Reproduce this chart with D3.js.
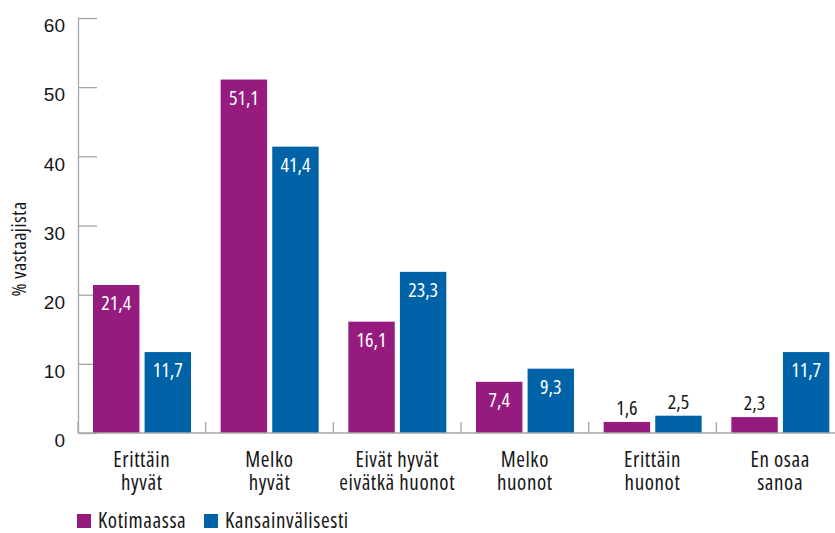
<!DOCTYPE html>
<html>
<head>
<meta charset="utf-8">
<script src="https://cdn.jsdelivr.net/npm/d3@7"></script>
<style>
  body { margin: 0; background: #fff; }
  svg { display: block; font-family: 'Open Sans', sans-serif; font-stretch: 75%; }
</style>
</head>
<body>
<div class="graph"><svg></svg></div>
<script>
// chart values
const categories = [
  ['Erittäin', 'hyvät'],
  ['Melko', 'hyvät'],
  ['Eivät hyvät', 'eivätkä huonot'],
  ['Melko', 'huonot'],
  ['Erittäin', 'huonot'],
  ['En osaa', 'sanoa']
]
const seriesNames = ['Kotimaassa', 'Kansainvälisesti']
const kotimaassa = [21.4, 51.1, 16.1, 7.4, 1.6, 2.3]
const kansainvalisesti = [11.7, 41.4, 23.3, 9.3, 2.5, 11.7]
const yTicks = [0, 10, 20, 30, 40, 50, 60]

const colors = ['#951b7e', '#0063a7']
const textColor = '#161616'
const axisColor = '#a6a6a6'
const width = 835
const height = 533

const svg = d3.select('.graph').select('svg')
  .attr('width', width)
  .attr('height', height)

const catKeys = categories.map((c) => c.join(' '))

const x = d3.scaleBand()
  .domain(catKeys)
  .range([78, 844])

const xInner = d3.scaleBand()
  .domain(seriesNames)
  .range([15, 113])
  .paddingInner(0.1)

const y = d3.scaleLinear()
  .domain([0, 60])
  .range([433, 18])

const rows = catKeys.map((k, i) => ({
  key: k,
  values: [kotimaassa[i], kansainvalisesti[i]]
}))

// y axis
const yAxis = svg.append('g')
  .attr('transform', 'translate(78,0)')
  .call(d3.axisLeft(y)
    .tickValues(yTicks)
    .tickSizeInner(-19)
    .tickSizeOuter(0)
    .tickPadding(13))

yAxis.select('.domain').attr('stroke', axisColor).attr('stroke-width', 1.3)
yAxis.selectAll('.tick line').attr('stroke', axisColor).attr('stroke-width', 1.3)
yAxis.selectAll('.tick text')
  .attr('font-size', 19)
  .attr('font-family', null)
  .attr('fill', textColor)
  .attr('dy', '0.72em')

svg.append('text')
  .text('% vastaajista')
  .attr('transform', 'translate(26, 249) rotate(-90)')
  .attr('text-anchor', 'middle')
  .attr('font-size', 20)
  .attr('letter-spacing', 0.5)
  .attr('fill', textColor)

// bars
const groups = svg.append('g')
  .selectAll('g')
  .data(rows)
  .join('g')
  .attr('transform', (d) => `translate(${x(d.key)},0)`)

groups.selectAll('rect')
  .data((d) => d.values.map((v, i) => ({ v, s: seriesNames[i], i })))
  .join('rect')
  .attr('x', (d) => xInner(d.s))
  .attr('width', xInner.bandwidth())
  .attr('y', (d) => y(d.v))
  .attr('height', (d) => y(0) - y(d.v))
  .attr('fill', (d) => colors[d.i])

groups.selectAll('text.value')
  .data((d) => d.values.map((v, i) => ({ v, s: seriesNames[i], i })))
  .join('text')
  .attr('class', 'value')
  .text((d) => d.v.toFixed(1).replace('.', ','))
  .attr('x', (d) => xInner(d.s) + xInner.bandwidth() / 2)
  .attr('y', (d) => d.v > 5 ? y(d.v) + 25 : y(d.v) - 7)
  .attr('text-anchor', 'middle')
  .attr('font-size', 20)
  .attr('fill', (d) => d.v > 5 ? '#ffffff' : textColor)

// x axis
svg.append('line')
  .attr('x1', x.range()[0])
  .attr('x2', x.range()[1])
  .attr('y1', y(0))
  .attr('y2', y(0))
  .attr('stroke', axisColor)
  .attr('stroke-width', 1.3)

const bounds = catKeys.map((k) => x(k)).concat([x.range()[1]])
svg.append('g')
  .selectAll('line')
  .data(bounds)
  .join('line')
  .attr('x1', (d) => d)
  .attr('x2', (d) => d)
  .attr('y1', y(0))
  .attr('y2', y(0) - 11)
  .attr('stroke', axisColor)
  .attr('stroke-width', 1.3)

const catLabels = svg.append('g')
  .selectAll('text')
  .data(categories)
  .join('text')
  .attr('x', (d, i) => x(catKeys[i]) + x.bandwidth() / 2)
  .attr('y', 467)
  .attr('text-anchor', 'middle')
  .attr('font-size', 21)
  .attr('letter-spacing', 0.6)
  .attr('fill', textColor)

catLabels.selectAll('tspan')
  .data((d) => d)
  .join('tspan')
  .attr('x', function () { return d3.select(this.parentNode).attr('x') })
  .attr('dy', (d, i) => i === 0 ? 0 : 23)
  .text((d) => d)

// legend
const legendX = [77, 204]
const legend = svg.append('g')
  .selectAll('g')
  .data(seriesNames)
  .join('g')
  .attr('transform', (d, i) => `translate(${legendX[i]}, 514)`)

legend.append('rect')
  .attr('width', 14)
  .attr('height', 14)
  .attr('fill', (d, i) => colors[i])

legend.append('text')
  .text((d) => d)
  .attr('x', 21)
  .attr('y', 14)
  .attr('font-size', 21)
  .attr('letter-spacing', 0.6)
  .attr('fill', textColor)
</script>
</body>
</html>
